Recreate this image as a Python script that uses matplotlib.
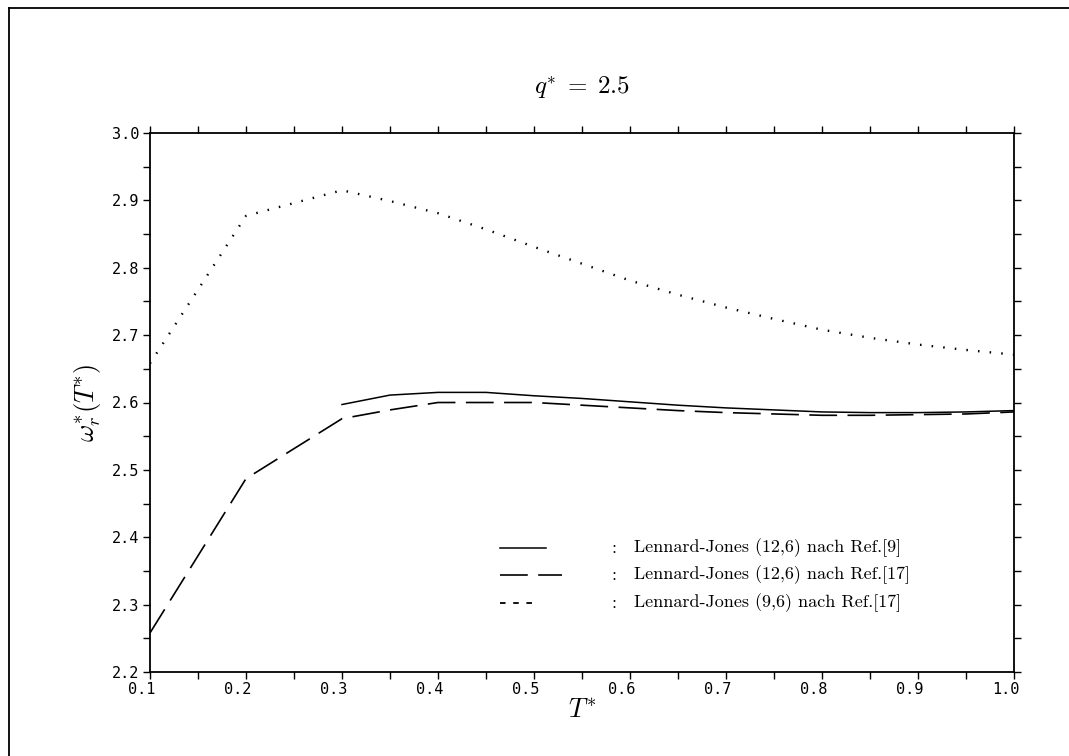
import matplotlib
matplotlib.use("Agg")
import matplotlib.pyplot as plt
from matplotlib.lines import Line2D
from matplotlib.ticker import MultipleLocator, FormatStrFormatter
from matplotlib.transforms import ScaledTranslation

plt.rcParams["mathtext.fontset"] = "cm"
plt.rcParams["lines.scale_dashes"] = False

# Reduced temperature grid and rotational frequencies
t_lj126_ref9 = [0.30, 0.35, 0.40, 0.45, 0.50, 0.55, 0.60, 0.65, 0.70, 0.75, 0.80, 0.85, 0.90, 0.95, 1.00]
w_lj126_ref9 = [2.597, 2.611, 2.615, 2.615, 2.610, 2.606, 2.601, 2.596, 2.592, 2.589, 2.586, 2.585, 2.585, 2.586, 2.588]

t_lj126_ref17 = [0.10, 0.20, 0.30, 0.35, 0.40, 0.45, 0.50, 0.55, 0.60, 0.65, 0.70, 0.75, 0.80, 0.85, 0.90, 0.95, 1.00]
w_lj126_ref17 = [2.258, 2.487, 2.576, 2.589, 2.600, 2.600, 2.600, 2.596, 2.592, 2.588, 2.585, 2.583, 2.581, 2.581, 2.582, 2.583, 2.586]

t_lj96_ref17 = [0.10, 0.20, 0.30, 0.35, 0.40, 0.45, 0.50, 0.55, 0.60, 0.65, 0.70, 0.75, 0.80, 0.85, 0.90, 0.95, 1.00]
w_lj96_ref17 = [2.658, 2.877, 2.915, 2.899, 2.881, 2.857, 2.831, 2.806, 2.781, 2.760, 2.741, 2.724, 2.708, 2.696, 2.686, 2.678, 2.671]

legend_labels = [
    "Lennard-Jones (12,6) nach Ref.[9]",
    "Lennard-Jones (12,6) nach Ref.[17]",
    "Lennard-Jones (9,6) nach Ref.[17]",
]

W, H = 1069, 756
fig = plt.figure(figsize=(W / 100, H / 100), dpi=100)
ax = fig.add_axes([150 / W, 1 - 672 / H, 864 / W, 539 / H])

solid = dict(color="black", lw=1.1, linestyle="-")
dashed = dict(color="black", lw=1.2, linestyle=(0, (20, 7.5)))
dotted = dict(color="black", lw=1.7, linestyle=(0, (1.1, 7.3)))

ax.plot(t_lj126_ref9, w_lj126_ref9, **solid)
ax.plot(t_lj126_ref17, w_lj126_ref17, **dashed)
ax.plot(t_lj96_ref17, w_lj96_ref17, **dotted)

ax.set_xlim(0.1, 1.0)
ax.set_ylim(2.2, 3.0)
ax.xaxis.set_major_locator(MultipleLocator(0.1))
ax.xaxis.set_minor_locator(MultipleLocator(0.05))
ax.yaxis.set_major_locator(MultipleLocator(0.1))
ax.yaxis.set_minor_locator(MultipleLocator(0.05))
ax.xaxis.set_major_formatter(FormatStrFormatter("%.1f"))
ax.yaxis.set_major_formatter(FormatStrFormatter("%.1f"))

ax.tick_params(which="both", direction="out", top=True, right=True,
               labeltop=False, labelright=False, width=1.0, color="black")
ax.tick_params(which="major", length=5)
ax.tick_params(which="minor", length=5)
ax.tick_params(axis="x", which="major", labelsize=11, pad=2)
ax.tick_params(axis="y", which="major", labelsize=11, pad=3)

# Plotter-style labels: x labels sit with their last digit on the tick
shift = ScaledTranslation(-8 / 100, 0, fig.dpi_scale_trans)
for lab in ax.get_xticklabels():
    lab.set_fontfamily("DejaVu Sans Mono")
    lab.set_transform(lab.get_transform() + shift)
for lab in ax.get_yticklabels():
    lab.set_fontfamily("DejaVu Sans Mono")
for sp in ax.spines.values():
    sp.set_linewidth(1.3)

ax.set_xlabel(r"$T^{*}$", fontsize=19, labelpad=0)
ax.set_ylabel(r"$\omega_r^{*}(T^{*})$", fontsize=19, labelpad=6)
ax.set_title(r"$q^{*}\;=\;2.5$", fontsize=18, pad=28)

# Legend drawn as sample line, colon and text
styles = [solid, dashed, dict(color="black", lw=1.3, linestyle=(0, (4.0, 5.5)))]
lens = [0.053, 0.072, 0.042]
rows = [0.230, 0.180, 0.128]
for style, ln, y, label in zip(styles, lens, rows, legend_labels):
    ax.add_line(Line2D([0.405, 0.405 + ln], [y, y], transform=ax.transAxes, **style))
    ax.text(0.534, y, ":", transform=ax.transAxes, fontsize=13,
            family="cmr10", va="center", ha="left")
    ax.text(0.560, y, label, transform=ax.transAxes, fontsize=13,
            family="cmr10", va="center", ha="left")

# Page frame (top and left edges)
fig.add_artist(Line2D([9 / W, 1.0], [1 - 8 / H, 1 - 8 / H], transform=fig.transFigure,
                      color="black", lw=1.3))
fig.add_artist(Line2D([9 / W, 9 / W], [0.0, 1 - 8 / H], transform=fig.transFigure,
                      color="black", lw=1.3))

fig.savefig("out.png", dpi=100)
